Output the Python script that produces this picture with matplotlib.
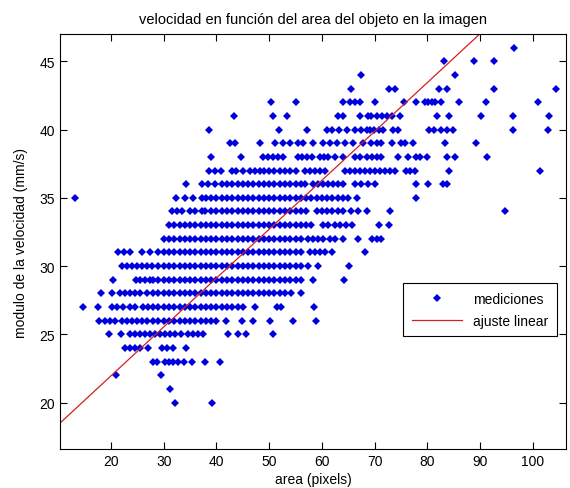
import numpy as np
import matplotlib
matplotlib.use("Agg")
import matplotlib.pyplot as plt

plt.rcParams['font.family'] = ['Liberation Sans', 'DejaVu Sans']

area_46 = [96.5]
area_45 = [83.1, 88.8, 92.6]
area_44 = [67.4, 85.2]
area_43 = [65.6, 72.7, 73.8, 82.2, 83.7, 92.6, 104.4]
area_42 = [50.3, 55.1, 64.0, 65.3, 66.3, 67.2, 70.0, 75.6, 77.9, 79.5, 80.1, 80.8,
           81.5, 82.5, 86.0, 91.1, 100.9]
area_41 = [43.3, 50.8, 53.3, 63.0, 64.0, 67.2, 68.7, 69.3, 70.4, 71.4, 72.3, 73.3,
           74.8, 81.9, 84.1, 90.1, 96.2, 103.0]
area_40 = [38.6, 51.9, 57.2, 61.0, 62.0, 63.3, 64.7, 66.3, 67.5, 68.5, 69.1, 69.9,
           70.9, 71.6, 73.5, 74.4, 80.3, 81.3, 82.6, 83.8, 84.8, 96.2, 102.8]
area_39 = [42.6, 43.5, 48.2, 51.1, 52.7, 53.9, 55.5, 56.4, 58.3, 60.2, 61.5, 62.8,
           64.4, 65.9, 67.8, 69.3, 70.4, 71.3, 73.3, 75.1, 75.7, 77.3, 83.4, 89.3]
area_38 = [38.9, 44.6, 48.9, 49.8, 50.8, 51.7, 52.6, 55.4, 56.3, 57.1, 58.2, 59.6,
           60.4, 61.2, 62.5, 64.0, 66.3, 67.2, 68.5, 69.5, 70.4, 71.3, 74.5, 76.4,
           77.9, 78.7, 80.0, 83.8, 85.2, 91.4]
area_37 = [38.5, 39.7, 40.9, 42.9, 43.8, 45.1, 46.4, 47.3, 48.2, 49, 50, 51, 52, 53,
           54, 55, 56.8, 57.7, 58.7, 59.6, 60.6, 64.4, 65.3, 66.3, 67.2, 68.2, 69.1,
           70.0, 71.0, 71.9, 72.9, 73.8, 76.0, 76.8, 77.6, 84.1, 101.3]
area_36 = [34.2, 37.2, 38.4, 39.8, 41, 42, 43, 44, 45, 46, 47, 48, 49, 50, 51, 52,
           53, 54, 55, 56, 56.8, 58.3, 59.2, 60.2, 61.1, 62.1, 63.0, 64.0, 66.3, 67.5,
           68.8, 70.0, 77.8, 80.2, 83.0, 83.7]
area_35 = [13.2, 32.3, 34.0, 35.6, 37.2, 38, 39, 40, 41, 42, 43, 44, 45, 46, 47, 48,
           49, 50, 51, 52, 53, 54, 55, 56, 57, 58, 59, 60, 61, 62, 63.1, 64.0, 65.0,
           66.6, 77.8]
area_34 = [31.5, 32.5, 33.4, 35.0, 35.9, 37.2, 37.8, 39, 40, 41, 42, 43, 44, 45, 46,
           47, 48, 49, 50, 51, 52, 53, 54, 55, 56, 57, 59, 60, 61, 62, 63, 64, 65.6,
           66.9, 68.5, 72.9, 94.7]
area_33 = [31, 32, 33, 34, 35, 36, 37, 38, 39, 40, 41, 42, 43, 44, 45, 46, 47, 48,
           49, 50, 51, 52, 53, 54, 55, 56, 57, 58, 60.2, 61.2, 62.5, 63.5, 64.6, 65.8,
           70.8, 72.7]
area_32 = [30, 31, 32, 33, 34, 35, 36, 37, 38, 39, 40, 41, 42, 43, 44, 45, 46, 47,
           48, 49, 50, 51, 52, 53, 54, 55, 56, 57.3, 58.3, 59.2, 60.2, 61.5, 62.5,
           64.0, 66.8, 69.5, 70.4, 71.2]
area_31 = [21.4, 22.4, 23.6, 25.8, 27.4, 29, 30, 31, 32, 33, 34, 35, 36, 37, 38, 39,
           40, 41, 42, 43, 44, 45, 46, 47, 48, 49, 50, 51, 52, 53, 54, 55, 56, 57.7,
           58.7, 59.6, 60.6, 61.9, 68.2]
area_30 = [22.0, 23.0, 23.9, 24.9, 25.8, 26.8, 27.7, 29, 30, 31, 32, 33, 34, 35, 36,
           37, 38, 39, 40, 41, 42, 43, 44, 45, 46, 47, 48, 49, 50, 51, 52, 53, 54, 55,
           56, 57.3, 59.2, 65.1]
area_29 = [20.4, 24.7, 25.5, 26.5, 27.4, 28, 29, 30, 31, 32, 33, 34, 35, 36, 37, 38,
           39, 40, 41, 42, 43, 44, 45, 46, 47, 48, 49, 50, 51, 52, 53, 54, 55, 56,
           58.3, 64.2]
area_28 = [18.2, 20.1, 21.7, 22.7, 23.6, 24.5, 25.5, 26.9, 28, 29, 30, 31, 32, 33,
           34, 35, 36, 37, 38, 39, 40, 41, 42, 43, 44, 45, 46, 47, 48, 49, 50, 51, 52,
           53, 54.1, 56.0]
area_27 = [14.7, 17.6, 20.1, 21.1, 22.3, 23.6, 24.5, 26, 27, 28, 29, 30, 31, 32, 33,
           34, 35, 36, 37, 38, 39, 40, 41, 42, 43, 44, 45.1, 47.3, 51.4, 52.2, 58.5]
area_26 = [17.8, 18.8, 19.8, 20.8, 22.0, 23.0, 23.9, 24.9, 25.8, 26.8, 28, 29, 30,
           31, 32, 33, 34, 35, 36, 37, 38, 39, 40, 41.9, 44.8, 46.9, 50.1, 54.6, 58.8]
area_25 = [19.7, 21.9, 23.6, 24.5, 25.5, 26.4, 27.4, 28.3, 29.3, 30.2, 31.2, 32.1,
           33.2, 34.6, 35.5, 36.5, 37.5, 42.2, 44.1, 45.6, 50.8]
area_24 = [22.7, 23.6, 24.5, 25.5, 27.1, 29.6, 30.6, 31.8, 34.2]
area_23 = [27.9, 28.8, 30.2, 31.0, 31.8, 32.8, 33.8, 35.3, 37.8, 40.7]
area_22 = [20.9, 29.4]
area_21 = [31.2]
area_20 = [32.1, 39.1]

speeds = [46, 45, 44, 43, 42, 41, 40, 39, 38, 37, 36, 35, 34, 33, 32, 31, 30, 29,
          28, 27, 26, 25, 24, 23, 22, 21, 20]
areas = [area_46, area_45, area_44, area_43, area_42, area_41, area_40, area_39,
         area_38, area_37, area_36, area_35, area_34, area_33, area_32, area_31,
         area_30, area_29, area_28, area_27, area_26, area_25, area_24, area_23,
         area_22, area_21, area_20]

# linear fit
fit_slope = 0.358
fit_intercept = 14.8

x = np.concatenate([np.array(a, dtype=float) for a in areas])
y = np.concatenate([np.full(len(a), v, dtype=float) for a, v in zip(areas, speeds)])

fig = plt.figure(figsize=(5.7, 4.89), dpi=100)
ax = fig.add_axes([60/570, 39/489, 506/570, 415/489])

xlo, xhi = 10.33, 106.3
ax.set_xlim(xlo, xhi)
ax.set_ylim(16.6, 47)

ax.plot(x, y, linestyle='none', marker='D', markersize=3.8, color='#0000dd',
        markeredgewidth=0, label='mediciones')
xl = np.array([xlo, xhi])
ax.plot(xl, fit_slope*xl + fit_intercept, color='#d42020', linewidth=0.9,
        label='ajuste linear')

ax.set_xticks([20, 30, 40, 50, 60, 70, 80, 90, 100])
ax.set_yticks([20, 25, 30, 35, 40, 45])
ax.tick_params(direction='in', top=True, right=True, length=5, labelsize=10)
for s in ax.spines.values():
    s.set_linewidth(0.8)

ax.set_title('velocidad en función del area del objeto en la imagen', fontsize=10.5, pad=8)
ax.set_xlabel('area (pixels)', fontsize=10, labelpad=3)
ax.set_ylabel('modulo de la velocidad (mm/s)', fontsize=10, labelpad=8)

leg = ax.legend(loc='center right', bbox_to_anchor=(0.995, 0.335), fontsize=10,
                fancybox=False, edgecolor='black', framealpha=1, borderpad=0.6,
                handlelength=3.6, labelspacing=0.6)
leg.get_frame().set_linewidth(0.8)

fig.savefig('out.png', dpi=100)
